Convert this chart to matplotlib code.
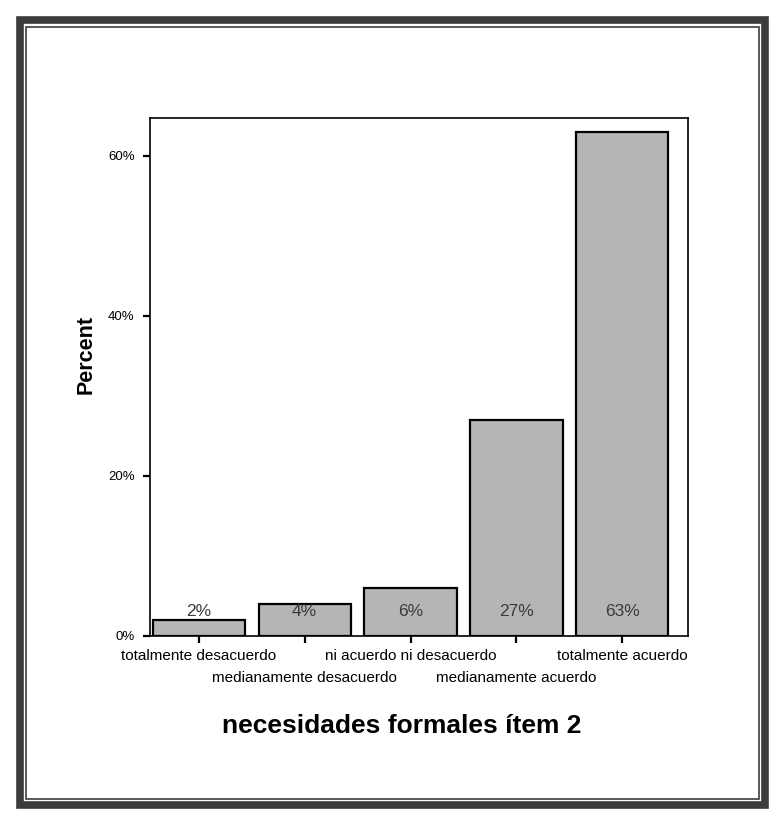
import matplotlib.pyplot as plt
from matplotlib.patches import Rectangle

# datos del gráfico de barras
categorias = ['totalmente desacuerdo', 'medianamente desacuerdo', 'ni acuerdo ni desacuerdo',
              'medianamente acuerdo', 'totalmente acuerdo']
porcentajes = [2, 4, 6, 27, 63]
etiquetas_y = [0, 20, 40, 60]

W, H = 772, 819
fig = plt.figure(figsize=(W / 100, H / 100), dpi=100)
fig.patch.set_facecolor('white')

# marco exterior (banda gruesa + línea fina interior)
def px(x, y):
    return x / W, 1 - y / H

x0, y0 = px(20, 805)
x1, y1 = px(765, 20)
fig.patches.append(Rectangle((x0, y0), x1 - x0, y1 - y0, transform=fig.transFigure,
                             fill=False, edgecolor='#3c3c3c', linewidth=5.5, zorder=0))
a0, b0 = px(26.5, 798.5)
a1, b1 = px(758.5, 26.5)
fig.patches.append(Rectangle((a0, b0), a1 - a0, b1 - b0, transform=fig.transFigure,
                             fill=False, edgecolor='#3c3c3c', linewidth=1.2, zorder=0))

ax = fig.add_axes([150 / W, 1 - 636 / H, (688 - 150) / W, (636 - 118) / H])
x = list(range(len(categorias)))
ax.bar(x, porcentajes, width=0.87, color='#b5b5b5', edgecolor='black', linewidth=1.6, zorder=2)

for xi, p in zip(x, porcentajes):
    ax.text(xi, 3.0, f'{p}%', ha='center', va='center', fontsize=12.5,
            color='#3a3a3a', family=['Liberation Sans', 'DejaVu Sans'], zorder=3)

ax.set_xlim(-0.46, 4.62)
ax.set_ylim(0, 64.7)
ax.set_yticks(etiquetas_y)
ax.set_yticklabels([f'{v}%' for v in etiquetas_y])
ax.set_xticks(x)
ax.set_xticklabels(categorias)

for s in ax.spines.values():
    s.set_linewidth(1.2)
ax.tick_params(axis='both', direction='out', length=5, width=1.6)
ax.tick_params(axis='y', pad=6, labelsize=9.5)
ax.tick_params(axis='x', labelsize=11)
for lab in ax.get_xticklabels() + ax.get_yticklabels():
    lab.set_family(['Liberation Sans Narrow', 'Liberation Sans', 'DejaVu Sans'])

# etiquetas escalonadas en dos filas
for i, t in enumerate(ax.xaxis.get_major_ticks()):
    t.set_pad(4 if i % 2 == 0 else 20)

fig.text(86 / W, 1 - 355 / H, 'Percent', rotation=90, ha='center', va='center',
         fontsize=15.5, fontweight='bold', family=['Liberation Sans', 'DejaVu Sans'])
fig.text(402 / W, 1 - 726 / H, 'necesidades formales ítem 2', ha='center', va='center',
         fontsize=19, fontweight='bold', family=['Liberation Sans', 'DejaVu Sans'])

fig.savefig('out.png', dpi=100)
